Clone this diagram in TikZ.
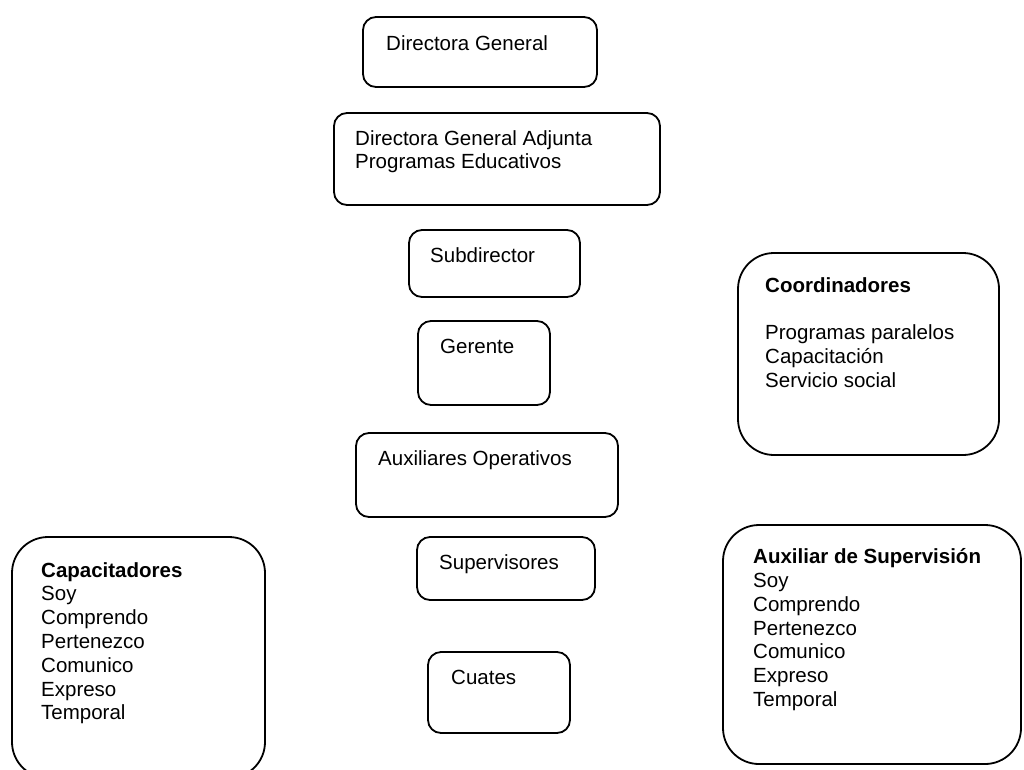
\documentclass[tikz,border=0pt]{standalone}
\usepackage{fontspec}
\setmainfont{Liberation Sans}
\usetikzlibrary{positioning}
\tikzset{
  orgbox/.style={draw,line width=1.8pt,rounded corners=13pt,inner sep=0pt},
  bigbox/.style={orgbox,rounded corners=36pt},
  lbl/.style={anchor=base west,inner sep=0pt,align=left,font=\fontsize{20.5}{23.8}\selectfont},
}
\begin{document}
\begin{tikzpicture}[x=1pt,y=-1pt]
  \useasboundingbox (0,0) rectangle (1024,769);
  \clip (0,0) rectangle (1024,769);
  \node[orgbox,minimum width=234pt,minimum height=70pt] (dg) at (480,52) {};
  \node[orgbox,minimum width=326pt,minimum height=92pt] (dga) at (497,159) {};
  \node[orgbox,minimum width=171pt,minimum height=67pt] (sub) at (494.5,263.5) {};
  \node[orgbox,minimum width=132pt,minimum height=84pt] (ger) at (484,363) {};
  \node[orgbox,minimum width=262pt,minimum height=84pt] (aux) at (487,475) {};
  \node[orgbox,minimum width=178pt,minimum height=63pt] (sup) at (506,568.5) {};
  \node[orgbox,minimum width=142pt,minimum height=81pt] (cua) at (499,692.5) {};
  \node[bigbox,minimum width=261pt,minimum height=202pt] (coord) at (868.5,354) {};
  \node[bigbox,minimum width=253pt,minimum height=241pt] (capac) at (138.5,657.5) {};
  \node[bigbox,minimum width=298pt,minimum height=239pt] (auxsup) at (872,644.5) {};
  \node[lbl] (dgtxt) at (386,50) {Directora General};
  \node[lbl] (dgatxt) at (355,168.8) {Directora General Adjunta\\Programas Educativos};
  \node[lbl] (subtxt) at (430,262) {Subdirector};
  \node[lbl] (gertxt) at (440,353) {Gerente};
  \node[lbl] (auxtxt) at (378,465) {Auxiliares Operativos};
  \node[lbl] (suptxt) at (439,569) {Supervisores};
  \node[lbl] (cuatxt) at (451,684) {Cuates};
  \node[lbl] (coordtxt) at (765,387.2) {\textbf{Coordinadores}\\ \\Programas paralelos\\Capacitación\\Servicio social};
  \node[lbl] (capactxt) at (41,719.8) {\textbf{Capacitadores}\\Soy\\Comprendo\\Pertenezco\\Comunico\\Expreso\\Temporal};
  \node[lbl] (auxsuptxt) at (753,706.5) {\textbf{Auxiliar de Supervisión}\\Soy\\Comprendo\\Pertenezco\\Comunico\\Expreso\\Temporal};
\end{tikzpicture}
\end{document}
